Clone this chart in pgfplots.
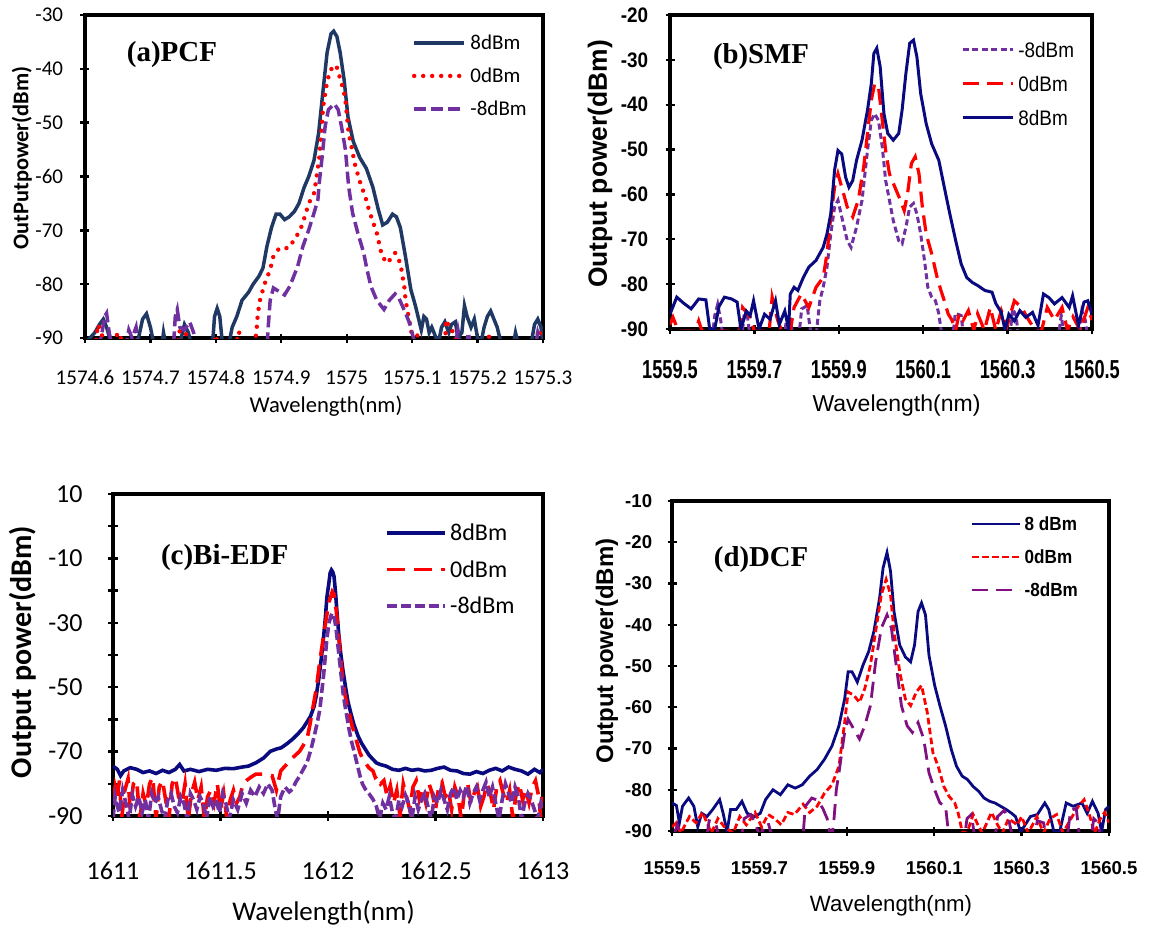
\documentclass[border=0pt]{standalone}
\usepackage{pgfplots}
\pgfplotsset{compat=1.18}
\usepackage{fontspec}
\setmainfont{Carlito}
\newfontfamily\calib{Carlito}
\newfontfamily\arial{Liberation Sans}
\newfontfamily\arialN[FakeStretch=0.9]{Liberation Sans}
\newfontfamily\arialNN[FakeStretch=0.7]{Liberation Sans}
\newfontfamily\tnr{Liberation Serif}
\definecolor{aNavy}{RGB}{31,56,100}
\definecolor{navy}{RGB}{10,10,128}
\definecolor{purp}{RGB}{112,48,160}
\definecolor{purpD}{RGB}{128,16,128}
\definecolor{myred}{RGB}{255,0,0}
\newcommand\shiftx[2]{\pgfmathfloatparsenumber{#1}\pgfmathfloattosci{\pgfmathresult}\edef\pgfmathresult{\fpeval{\pgfmathresult-#2}}}
\pgfplotsset{
  panel/.style={scale only axis, anchor=south west,
    axis line style={line width=1.8pt, line cap=rect},
    tick pos=left, tick align=center,
    major tick length=4.5pt, minor tick length=4.5pt,
    major tick style={line width=1.2pt,black},
    minor tick style={line width=1.2pt,black},
    clip=true, legend cell align=left,
    legend image code/.code={\draw[##1] (0pt,0pt) -- (25pt,0pt); \path (27pt,0pt);},
  },
}
\begin{document}
\begin{tikzpicture}
\useasboundingbox (0pt,0pt) rectangle (575pt,-466pt);
% ---------------- (a) PCF ----------------
\begin{axis}[panel, at={(42.5pt,-169pt)}, width=229pt, height=161.5pt,
  x coord trafo/.code={\shiftx{#1}{1575}},
  xmin=1574.6, xmax=1575.3, ymin=-90, ymax=-30,
  xtick={1574.6,1574.7,1574.8,1574.9,1575,1575.1,1575.2,1575.3},
  xticklabels={1574.6,1574.7,1574.8,1574.9,1575,1575.1,1575.2,1575.3},
  ytick={-90,-80,-70,-60,-50,-40,-30}, yticklabels={-90,-80,-70,-60,-50,-40,-30},
  xticklabel style={font=\calib\fontsize{10.5}{12}\selectfont, anchor=center, yshift=-17.5pt, inner sep=0pt},
  yticklabel style={font=\calib\fontsize{10.5}{12}\selectfont, anchor=east, xshift=-8.5pt, inner sep=0pt},
  legend style={at={(0.714,0.934)}, anchor=north west, draw=none, fill=none, inner sep=0pt, outer sep=0pt,
    row sep=9.9pt, column sep=0pt, nodes={inner sep=0pt, text height=6.6pt, text depth=0pt},
    font=\calib\fontsize{10.5}{12}\selectfont},
]
\addplot[aNavy, line width=1.75pt] coordinates {
(1574.600,-91) (1574.615,-89) (1574.622,-87.5) (1574.628,-86.5) (1574.633,-88) (1574.640,-91)
(1574.680,-91) (1574.688,-86.5) (1574.694,-85.5) (1574.700,-88) (1574.705,-91) (1574.718,-91)
(1574.720,-89) (1574.723,-91) (1574.745,-91) (1574.752,-87.5) (1574.758,-89) (1574.762,-91)
(1574.795,-91) (1574.798,-86) (1574.802,-84.5) (1574.806,-86) (1574.810,-91) (1574.820,-91)
(1574.825,-88) (1574.832,-86) (1574.840,-83) (1574.850,-81.5) (1574.857,-80) (1574.866,-78.5)
(1574.872,-77) (1574.878,-73) (1574.885,-69.5) (1574.892,-67) (1574.898,-67) (1574.905,-68)
(1574.912,-67.5) (1574.920,-66.5) (1574.927,-65) (1574.935,-62) (1574.942,-60) (1574.950,-57)
(1574.957,-52) (1574.963,-45) (1574.970,-37) (1574.976,-33.5) (1574.980,-33) (1574.985,-34)
(1574.990,-37) (1574.996,-42) (1575.002,-49) (1575.010,-53.5) (1575.020,-56.5) (1575.030,-58.5)
(1575.040,-62) (1575.048,-66) (1575.055,-69) (1575.062,-68.5) (1575.070,-67) (1575.076,-67.5)
(1575.082,-69.5) (1575.090,-75) (1575.098,-81) (1575.105,-84) (1575.110,-86.5) (1575.114,-88.5)
(1575.118,-86) (1575.122,-86.5) (1575.126,-89) (1575.130,-88) (1575.135,-89.5) (1575.140,-91)
(1575.145,-88) (1575.150,-87) (1575.156,-89) (1575.160,-87.5) (1575.166,-87) (1575.170,-90)
(1575.176,-89) (1575.180,-84) (1575.184,-86) (1575.190,-88) (1575.195,-86.5) (1575.200,-90)
(1575.205,-91) (1575.210,-88) (1575.215,-86) (1575.220,-85) (1575.225,-86.5) (1575.230,-88)
(1575.236,-91) (1575.255,-91) (1575.258,-89) (1575.262,-91) (1575.282,-91) (1575.287,-87.5)
(1575.292,-86.5) (1575.297,-88) (1575.300,-91)};
\addlegendentry{8dBm}
\addplot[myred, line width=2.2pt, line cap=round, dash pattern=on 0pt off 4.5pt] coordinates {
(1574.615,-92) (1574.620,-87.5) (1574.626,-89.5) (1574.630,-91) (1574.645,-91) (1574.650,-89)
(1574.655,-90) (1574.660,-92) (1574.740,-92) (1574.745,-88.5) (1574.752,-89) (1574.760,-90)
(1574.765,-92) (1574.795,-92) (1574.800,-89.5) (1574.805,-92) (1574.830,-92) (1574.835,-88.8)
(1574.840,-90.5) (1574.858,-92) (1574.862,-89) (1574.864,-85.7) (1574.867,-83.2) (1574.874,-80.1)
(1574.883,-77.3) (1574.888,-74.8) (1574.897,-73.3) (1574.911,-73.3) (1574.922,-71.4) (1574.930,-69.6)
(1574.936,-67.4) (1574.942,-65) (1574.950,-63.1) (1574.953,-60.9) (1574.958,-56.6) (1574.961,-52)
(1574.964,-47) (1574.970,-42.4) (1574.975,-40.2) (1574.984,-39.3) (1574.989,-41.4) (1574.995,-43.9)
(1574.998,-45.8) (1575.003,-52) (1575.009,-55.4) (1575.012,-57.5) (1575.020,-60.9) (1575.029,-64)
(1575.034,-66.2) (1575.040,-68.4) (1575.046,-70.5) (1575.054,-74.8) (1575.062,-76.1) (1575.074,-74.2)
(1575.082,-76.1) (1575.085,-78.3) (1575.088,-80.4) (1575.090,-83) (1575.093,-85) (1575.099,-89)
(1575.107,-89) (1575.112,-92) (1575.150,-92) (1575.152,-86.6) (1575.158,-88.5) (1575.166,-89)
(1575.170,-92) (1575.213,-92) (1575.217,-89.5) (1575.221,-92) (1575.288,-92) (1575.293,-88.3)
(1575.298,-90)};
\addlegendentry{0dBm}
\addplot[purp, line width=1.75pt, dash pattern=on 6pt off 2.5pt] coordinates {
(1574.620,-92) (1574.626,-89) (1574.630,-86) (1574.633,-85.4) (1574.637,-89) (1574.642,-92)
(1574.662,-92) (1574.667,-88.5) (1574.672,-90) (1574.678,-88) (1574.682,-92) (1574.735,-92)
(1574.738,-86) (1574.741,-84.7) (1574.745,-88) (1574.752,-88.5) (1574.760,-87) (1574.766,-89)
(1574.770,-92) (1574.878,-92) (1574.880,-88) (1574.883,-83) (1574.888,-80.7) (1574.897,-81.4)
(1574.905,-82) (1574.913,-80.4) (1574.925,-76.7) (1574.933,-73) (1574.942,-69.9) (1574.950,-66.8)
(1574.956,-64.3) (1574.958,-61.2) (1574.963,-55.7) (1574.967,-50.7) (1574.972,-47.6) (1574.981,-46.5)
(1574.987,-47.6) (1574.992,-50.7) (1574.998,-55) (1575.003,-61.9) (1575.009,-66.8) (1575.017,-70.5)
(1575.026,-74.2) (1575.031,-77.3) (1575.037,-80.4) (1575.046,-83) (1575.057,-84.7) (1575.065,-83)
(1575.074,-81.8) (1575.079,-82.4) (1575.085,-84) (1575.090,-85.4) (1575.096,-87.2) (1575.102,-90)
(1575.106,-92) (1575.165,-92) (1575.170,-88.5) (1575.175,-92) (1575.182,-92) (1575.186,-89)
(1575.190,-92) (1575.288,-92) (1575.292,-89) (1575.297,-91)};
\addlegendentry{-8dBm}
\end{axis}
% ---------------- (b) SMF ----------------
\begin{axis}[panel, at={(335pt,-164.5pt)}, width=211pt, height=157pt,
  x coord trafo/.code={\shiftx{#1}{1560}},
  xmin=1559.5, xmax=1560.5, ymin=-90, ymax=-20,
  xtick={1559.5,1559.7,1559.9,1560.1,1560.3,1560.5},
  xticklabels={1559.5,1559.7,1559.9,1560.1,1560.3,1560.5},
  ytick={-90,-80,-70,-60,-50,-40,-30,-20}, yticklabels={-90,-80,-70,-60,-50,-40,-30,-20},
  xticklabel style={font=\arialNN\bfseries\fontsize{13}{15}\selectfont, anchor=center, yshift=-18pt, inner sep=0pt},
  yticklabel style={font=\arialN\bfseries\fontsize{10.5}{12}\selectfont, anchor=east, xshift=-8.5pt, inner sep=0pt},
  legend style={at={(0.690,0.914)}, anchor=north west, draw=none, fill=none, inner sep=0pt, outer sep=0pt,
    row sep=9.5pt, column sep=0pt, nodes={inner sep=0pt, text height=7.5pt, text depth=0pt},
    font=\arialN\fontsize{10.5}{12}\selectfont},
]
\addplot[purp, line width=1.5pt, dash pattern=on 3pt off 1.75pt] coordinates {
(1559.600,-92) (1559.606,-87) (1559.613,-84.5) (1559.620,-88) (1559.626,-92) (1559.670,-92)
(1559.676,-86.5) (1559.684,-87.5) (1559.690,-92) (1559.770,-92) (1559.776,-88) (1559.785,-87.8)
(1559.792,-92) (1559.805,-92) (1559.812,-85.5) (1559.825,-84.8) (1559.835,-92) (1559.846,-92)
(1559.850,-88) (1559.855,-83.7) (1559.863,-80.7) (1559.872,-76.2) (1559.881,-68.8) (1559.890,-62.8)
(1559.898,-61.3) (1559.907,-65) (1559.920,-70.3) (1559.929,-71.8) (1559.942,-67.3) (1559.955,-61.3)
(1559.968,-50.2) (1559.977,-43.5) (1559.985,-42) (1559.994,-43.5) (1560.003,-49.4) (1560.011,-56.9)
(1560.020,-61.3) (1560.029,-65.8) (1560.042,-70.3) (1560.050,-71) (1560.059,-67.3) (1560.068,-62.8)
(1560.077,-62) (1560.085,-64.3) (1560.094,-68.8) (1560.103,-74.7) (1560.111,-80.7) (1560.120,-82.9)
(1560.129,-83.7) (1560.137,-86.6) (1560.142,-90) (1560.146,-92) (1560.170,-92) (1560.176,-86.5)
(1560.190,-87) (1560.196,-92) (1560.305,-92) (1560.312,-85.5) (1560.320,-87) (1560.326,-92)
(1560.420,-92) (1560.427,-87) (1560.435,-92) (1560.470,-92) (1560.476,-86) (1560.484,-88)
(1560.490,-92)};
\addlegendentry{-8dBm}
\addplot[myred, line width=1.6pt, dash pattern=on 8pt off 4pt] coordinates {
(1559.500,-89) (1559.507,-87.4) (1559.520,-90.5) (1559.560,-90.5) (1559.568,-88.2) (1559.576,-90.5)
(1559.665,-90.5) (1559.672,-85.2) (1559.690,-87.4) (1559.700,-90.5) (1559.735,-90.5) (1559.742,-82.9)
(1559.755,-88) (1559.765,-90.5) (1559.785,-90.5) (1559.794,-85.2) (1559.811,-82.2) (1559.829,-85.2)
(1559.846,-80.7) (1559.863,-78.5) (1559.872,-73.2) (1559.881,-65) (1559.890,-58.4) (1559.898,-55.4)
(1559.907,-58.4) (1559.920,-62.8) (1559.933,-65) (1559.946,-61.3) (1559.959,-53.9) (1559.968,-46.4)
(1559.977,-39) (1559.985,-35.3) (1559.994,-36) (1560.003,-43.5) (1560.011,-50.2) (1560.020,-55.4)
(1560.033,-58.4) (1560.046,-61.3) (1560.055,-63.6) (1560.063,-59.8) (1560.072,-53.1) (1560.081,-51.6)
(1560.090,-55.4) (1560.098,-62.8) (1560.107,-68.8) (1560.120,-73.2) (1560.133,-78.5) (1560.142,-81.4)
(1560.150,-83.7) (1560.159,-86.6) (1560.168,-88) (1560.177,-90.3) (1560.185,-86.6) (1560.195,-88)
(1560.207,-85.9) (1560.220,-90.3) (1560.229,-86.6) (1560.245,-90.3) (1560.259,-85.2) (1560.272,-90.3)
(1560.285,-85.9) (1560.298,-89.5) (1560.316,-83.7) (1560.333,-85.2) (1560.350,-88) (1560.366,-90.3)
(1560.380,-90.5) (1560.394,-85.2) (1560.411,-88) (1560.429,-85.2) (1560.442,-90.3) (1560.455,-87.3)
(1560.472,-90.3) (1560.490,-85.2) (1560.500,-88)};
\addlegendentry{0dBm}
\addplot[navy, line width=1.5pt] coordinates {
(1559.500,-86.7) (1559.516,-82.9) (1559.533,-84.3) (1559.550,-85.5) (1559.568,-83.3) (1559.585,-83.5)
(1559.594,-90) (1559.606,-90) (1559.616,-85) (1559.629,-82.9) (1559.646,-83.3) (1559.659,-84)
(1559.668,-90) (1559.681,-86) (1559.690,-87) (1559.698,-83.7) (1559.711,-90) (1559.724,-86.7)
(1559.737,-87.8) (1559.750,-83.7) (1559.759,-89) (1559.772,-86) (1559.781,-90) (1559.785,-82.2)
(1559.794,-80.7) (1559.803,-81.4) (1559.816,-78.5) (1559.829,-76.2) (1559.846,-74.7) (1559.863,-71.8)
(1559.872,-68.8) (1559.881,-64.3) (1559.890,-54.6) (1559.898,-50.2) (1559.907,-51) (1559.916,-56.1)
(1559.924,-58.4) (1559.933,-56.9) (1559.942,-52.4) (1559.955,-47.9) (1559.968,-41.2) (1559.977,-35.3)
(1559.983,-28.6) (1559.990,-27.4) (1559.998,-31.5) (1560.007,-42) (1560.016,-46.4) (1560.029,-47.9)
(1560.042,-46.4) (1560.050,-41.2) (1560.059,-33) (1560.068,-26.3) (1560.077,-25.6) (1560.085,-29.3)
(1560.094,-37.5) (1560.107,-44.2) (1560.120,-48.7) (1560.137,-52.4) (1560.150,-58.4) (1560.163,-64.3)
(1560.177,-70.3) (1560.190,-75.5) (1560.203,-78.5) (1560.216,-79.6) (1560.229,-80.3) (1560.246,-81.4)
(1560.263,-81.8) (1560.272,-84.3) (1560.285,-86.3) (1560.294,-90.3) (1560.303,-86.7) (1560.316,-88.2)
(1560.329,-85.9) (1560.343,-87.4) (1560.359,-86.3) (1560.372,-89.2) (1560.385,-82.2) (1560.398,-83)
(1560.411,-84.4) (1560.429,-83) (1560.446,-85.2) (1560.454,-82.6) (1560.468,-89.2) (1560.481,-84)
(1560.490,-83.7) (1560.500,-86.7)};
\addlegendentry{8dBm}
\end{axis}
% ---------------- (c) Bi-EDF ----------------
\begin{axis}[panel, at={(56.5pt,-408pt)}, width=215pt, height=161pt,
  major tick length=5pt, minor tick length=5pt,
  x coord trafo/.code={\shiftx{#1}{1612}},
  xmin=1611, xmax=1613, ymin=-90, ymax=10,
  xtick={1611,1611.5,1612,1612.5,1613},
  xticklabels={1611,1611.5,1612,1612.5,1613},
  ytick={-90,-70,-50,-30,-10,10}, yticklabels={-90,-70,-50,-30,-10,10},
  minor ytick={-80,-60,-40,-20,0},
  xticklabel style={font=\calib\fontsize{13}{15}\selectfont, anchor=center, yshift=-25pt, inner sep=0pt},
  yticklabel style={font=\calib\fontsize{13}{15}\selectfont, anchor=east, xshift=-12.5pt, inner sep=0pt},
  legend style={at={(0.634,0.902)}, anchor=north west, draw=none, fill=none, inner sep=0pt, outer sep=0pt,
    row sep=10.65pt, column sep=0pt, nodes={inner sep=0pt, text height=7.6pt, text depth=0pt},
    font=\calib\fontsize{12}{14}\selectfont},
  legend image code/.code={\draw[#1] (0pt,0pt) -- (29pt,0pt); \path (30.5pt,0pt);},
]
\addplot[navy, line width=1.8pt] coordinates {
(1611.000,-74.5) (1611.020,-75.5) (1611.035,-77.5) (1611.050,-76) (1611.080,-75) (1611.110,-75.5)
(1611.140,-76.5) (1611.170,-76) (1611.200,-76.8) (1611.230,-75.8) (1611.260,-76.5) (1611.290,-75.5)
(1611.310,-74) (1611.330,-76) (1611.360,-75.5) (1611.400,-76.2) (1611.440,-75.5) (1611.480,-75.8)
(1611.520,-75.2) (1611.560,-75.3) (1611.600,-74.8) (1611.630,-74.5) (1611.664,-73.5) (1611.700,-72)
(1611.732,-69.9) (1611.760,-69.2) (1611.783,-68.8) (1611.810,-67.5) (1611.834,-66.2) (1611.860,-64.5)
(1611.885,-62.6) (1611.905,-60.5) (1611.919,-59) (1611.935,-56) (1611.945,-52.8) (1611.958,-47)
(1611.970,-40.4) (1611.980,-34) (1611.987,-29) (1611.995,-22) (1612.004,-17.7) (1612.010,-14.5)
(1612.016,-13.6) (1612.022,-14.2) (1612.028,-15.6) (1612.035,-20.5) (1612.042,-27) (1612.050,-33.5)
(1612.059,-39.4) (1612.070,-45) (1612.081,-49.7) (1612.093,-54.5) (1612.106,-58) (1612.120,-61.5)
(1612.140,-65.2) (1612.157,-67.5) (1612.174,-69.3) (1612.190,-71) (1612.209,-72.4) (1612.225,-73.5)
(1612.243,-74) (1612.270,-74.5) (1612.300,-75.5) (1612.330,-75.8) (1612.360,-75.2) (1612.390,-75.8)
(1612.420,-75.5) (1612.450,-76) (1612.480,-75.8) (1612.510,-75.2) (1612.540,-74.8) (1612.570,-75.8)
(1612.600,-76) (1612.630,-76.8) (1612.660,-77) (1612.690,-76.2) (1612.720,-76.8) (1612.750,-75.8)
(1612.780,-75.2) (1612.810,-76) (1612.840,-74.8) (1612.870,-75.5) (1612.900,-76) (1612.930,-77)
(1612.960,-75.5) (1612.985,-76.5) (1613.000,-75.5)};
\addlegendentry{8dBm}
\addplot[myred, line width=1.8pt, dash pattern=on 9pt off 4.5pt] coordinates {
(1611.000,-86) (1611.010,-81) (1611.020,-84) (1611.030,-79) (1611.040,-91) (1611.055,-82)
(1611.070,-78.5) (1611.080,-88) (1611.095,-80) (1611.110,-79) (1611.125,-91) (1611.140,-83)
(1611.155,-87) (1611.170,-80) (1611.185,-78) (1611.200,-91) (1611.215,-81) (1611.230,-79)
(1611.245,-85) (1611.260,-91) (1611.275,-80) (1611.290,-78) (1611.305,-84) (1611.320,-86)
(1611.335,-80) (1611.350,-91) (1611.365,-83) (1611.380,-79.5) (1611.395,-85) (1611.410,-81)
(1611.425,-91) (1611.440,-84) (1611.455,-82) (1611.470,-86) (1611.485,-80) (1611.500,-88)
(1611.515,-83) (1611.530,-91) (1611.545,-85) (1611.560,-82) (1611.575,-86) (1611.590,-84)
(1611.605,-80) (1611.620,-79) (1611.640,-78) (1611.664,-77) (1611.700,-77) (1611.740,-77.5)
(1611.760,-82) (1611.780,-76) (1611.800,-74.5) (1611.834,-72) (1611.868,-69.9) (1611.902,-66.2)
(1611.915,-62) (1611.928,-57) (1611.945,-50.7) (1611.958,-44) (1611.970,-38.3) (1611.984,-32)
(1611.996,-27) (1612.005,-23.5) (1612.013,-21.8) (1612.020,-20.3) (1612.027,-21) (1612.038,-26)
(1612.046,-31.5) (1612.055,-38.3) (1612.063,-44) (1612.072,-49.7) (1612.085,-54.5) (1612.098,-58)
(1612.110,-61.5) (1612.123,-64.2) (1612.136,-67.5) (1612.149,-70.4) (1612.160,-72) (1612.174,-73.5)
(1612.190,-75) (1612.209,-76) (1612.220,-78) (1612.230,-77.5) (1612.245,-80) (1612.260,-79)
(1612.275,-84) (1612.290,-80.5) (1612.305,-86) (1612.320,-82) (1612.335,-90) (1612.350,-80)
(1612.365,-84) (1612.380,-88) (1612.395,-81) (1612.410,-79) (1612.425,-85) (1612.440,-82)
(1612.455,-86) (1612.470,-80) (1612.485,-83) (1612.500,-88) (1612.515,-81) (1612.530,-79.5)
(1612.545,-84) (1612.560,-82) (1612.575,-88) (1612.590,-81) (1612.605,-84) (1612.620,-91)
(1612.635,-82) (1612.650,-80) (1612.665,-86) (1612.680,-83) (1612.695,-81) (1612.710,-87)
(1612.725,-84) (1612.740,-80) (1612.755,-83) (1612.770,-88) (1612.785,-81) (1612.800,-79)
(1612.815,-83) (1612.830,-86) (1612.845,-82) (1612.860,-91) (1612.875,-83) (1612.890,-80)
(1612.905,-85) (1612.920,-82) (1612.935,-86) (1612.950,-81) (1612.965,-79) (1612.980,-84)
(1612.990,-91) (1613.000,-84)};
\addlegendentry{0dBm}
\addplot[purp, line width=1.8pt, dash pattern=on 5pt off 2pt] coordinates {
(1611.000,-91) (1611.010,-84) (1611.020,-87) (1611.030,-89) (1611.045,-82) (1611.060,-86)
(1611.075,-91) (1611.090,-83.5) (1611.105,-87) (1611.120,-84) (1611.135,-89) (1611.150,-85)
(1611.165,-91) (1611.180,-83) (1611.195,-86) (1611.210,-84) (1611.225,-88) (1611.240,-91)
(1611.255,-85) (1611.270,-83) (1611.285,-87) (1611.300,-89) (1611.315,-84) (1611.330,-86)
(1611.345,-91) (1611.360,-83) (1611.375,-85) (1611.390,-88) (1611.405,-84) (1611.420,-86)
(1611.435,-91) (1611.450,-84) (1611.465,-87) (1611.480,-85) (1611.495,-89) (1611.510,-83)
(1611.525,-86) (1611.540,-91) (1611.560,-85) (1611.580,-88) (1611.600,-83) (1611.620,-86)
(1611.640,-82) (1611.660,-84) (1611.680,-81) (1611.700,-83) (1611.720,-80) (1611.740,-82)
(1611.755,-88) (1611.766,-91) (1611.780,-84) (1611.800,-81) (1611.820,-82.5) (1611.834,-81.7)
(1611.850,-79.5) (1611.868,-77.6) (1611.885,-75.5) (1611.902,-73.5) (1611.920,-69.5) (1611.936,-65.2)
(1611.950,-61) (1611.962,-57) (1611.970,-52) (1611.979,-46.6) (1611.988,-40) (1611.996,-34.2)
(1612.005,-30) (1612.013,-28) (1612.019,-27) (1612.025,-27.5) (1612.032,-29.5) (1612.038,-32.1)
(1612.046,-37) (1612.055,-42.5) (1612.063,-47.5) (1612.072,-52.8) (1612.085,-58) (1612.098,-63.1)
(1612.110,-67) (1612.123,-70.4) (1612.136,-74) (1612.149,-77.6) (1612.160,-80) (1612.174,-81.7)
(1612.190,-83) (1612.209,-84.8) (1612.225,-87) (1612.240,-91) (1612.255,-86) (1612.270,-88)
(1612.285,-84) (1612.300,-89) (1612.315,-91) (1612.330,-85) (1612.345,-87) (1612.360,-83.5)
(1612.375,-86) (1612.390,-91) (1612.405,-84) (1612.420,-88) (1612.435,-85) (1612.450,-83)
(1612.465,-87) (1612.480,-91) (1612.495,-84) (1612.510,-86) (1612.525,-82) (1612.540,-85)
(1612.555,-88) (1612.570,-83) (1612.585,-81) (1612.600,-85) (1612.615,-82) (1612.630,-84)
(1612.645,-80.5) (1612.660,-86) (1612.675,-83) (1612.690,-81) (1612.705,-85) (1612.720,-82)
(1612.735,-79.5) (1612.750,-84) (1612.765,-81) (1612.780,-86) (1612.795,-91) (1612.810,-85)
(1612.825,-80) (1612.840,-83) (1612.855,-86) (1612.870,-81) (1612.885,-84) (1612.900,-91)
(1612.915,-86) (1612.930,-83) (1612.945,-85) (1612.960,-88) (1612.975,-91) (1612.990,-86)
(1613.000,-88)};
\addlegendentry{-8dBm}
\end{axis}
% ---------------- (d) DCF ----------------
\begin{axis}[panel, at={(336pt,-415.5pt)}, width=218.5pt, height=165pt,
  x coord trafo/.code={\shiftx{#1}{1560}},
  xmin=1559.5, xmax=1560.5, ymin=-90, ymax=-10,
  xtick={1559.5,1559.7,1559.9,1560.1,1560.3,1560.5},
  xticklabels={1559.5,1559.7,1559.9,1560.1,1560.3,1560.5},
  ytick={-90,-80,-70,-60,-50,-40,-30,-20,-10}, yticklabels={-90,-80,-70,-60,-50,-40,-30,-20,-10},
  xticklabel style={font=\arial\bfseries\fontsize{9.3}{11}\selectfont, anchor=center, yshift=-16.5pt, inner sep=0pt},
  yticklabel style={font=\arial\bfseries\fontsize{9.3}{11}\selectfont, anchor=east, xshift=-7.5pt, inner sep=0pt},
  legend style={at={(0.684,0.951)}, anchor=north west, draw=none, fill=none, inner sep=0pt, outer sep=0pt,
    row sep=9.7pt, column sep=0pt, nodes={inner sep=0pt, text height=6.8pt, text depth=0pt},
    font=\arialN\bfseries\fontsize{9.5}{11}\selectfont},
  legend image code/.code={\draw[#1] (0pt,0pt) -- (24pt,0pt); \path (25.5pt,0pt);},
]
\addplot[navy, line width=1.4pt] coordinates {
(1559.500,-83.2) (1559.510,-83.8) (1559.517,-88) (1559.524,-84) (1559.538,-82) (1559.550,-84)
(1559.559,-89) (1559.568,-85.7) (1559.580,-86.5) (1559.593,-84.8) (1559.609,-82.4) (1559.617,-85.7)
(1559.626,-90.2) (1559.634,-84.8) (1559.647,-84.8) (1559.660,-82.8) (1559.672,-85.7) (1559.689,-86.5)
(1559.702,-85.7) (1559.714,-82.4) (1559.731,-80) (1559.748,-81.2) (1559.765,-78.8) (1559.782,-79.6)
(1559.798,-78.8) (1559.815,-76.7) (1559.832,-75.1) (1559.849,-72.6) (1559.866,-69.4) (1559.882,-64.5)
(1559.895,-58) (1559.903,-51.4) (1559.912,-51.4) (1559.924,-53.9) (1559.937,-49.8) (1559.950,-46.5)
(1559.962,-41.6) (1559.975,-33.5) (1559.983,-26.2) (1559.992,-22.5) (1560.000,-27) (1560.008,-36.8)
(1560.021,-44.9) (1560.034,-47.8) (1560.046,-49) (1560.055,-44.9) (1560.063,-36.8) (1560.071,-34.7)
(1560.080,-37.6) (1560.088,-47.4) (1560.101,-54.7) (1560.113,-59.6) (1560.126,-64.5) (1560.139,-70.2)
(1560.151,-74.3) (1560.164,-76.7) (1560.176,-77.5) (1560.189,-79.2) (1560.202,-80.4) (1560.214,-82)
(1560.227,-82.8) (1560.239,-83.2) (1560.252,-84) (1560.265,-84.8) (1560.277,-85.7) (1560.286,-86.5)
(1560.298,-90.2) (1560.320,-86.5) (1560.336,-86) (1560.353,-83.2) (1560.362,-84.8) (1560.374,-90.2)
(1560.387,-90.2) (1560.402,-83.2) (1560.418,-84) (1560.438,-83.2) (1560.450,-85.7) (1560.462,-82.8)
(1560.475,-85.7) (1560.483,-90.2) (1560.492,-84.8) (1560.500,-84)};
\addlegendentry{8 dBm}
\addplot[myred, line width=1.4pt, dash pattern=on 3.3pt off 1.7pt] coordinates {
(1559.500,-89) (1559.510,-88) (1559.520,-90.5) (1559.540,-86.5) (1559.555,-88) (1559.570,-85.5)
(1559.590,-90.5) (1559.605,-87) (1559.620,-89) (1559.640,-90.5) (1559.655,-86.5) (1559.670,-88.5)
(1559.690,-85.5) (1559.705,-89) (1559.720,-86) (1559.735,-87) (1559.750,-88.5) (1559.765,-85.5)
(1559.780,-86) (1559.800,-83.5) (1559.815,-85.5) (1559.832,-84) (1559.849,-80.8) (1559.866,-78.8)
(1559.882,-74.3) (1559.895,-63.7) (1559.903,-56.3) (1559.916,-57.1) (1559.929,-58.8) (1559.941,-55.5)
(1559.954,-49.8) (1559.966,-41.6) (1559.979,-32.7) (1559.990,-29) (1560.000,-32.7) (1560.008,-41.6)
(1560.021,-51.4) (1560.034,-58) (1560.046,-59.6) (1560.059,-56.3) (1560.071,-54.7) (1560.084,-61.2)
(1560.097,-71) (1560.109,-74.3) (1560.122,-79.2) (1560.134,-81.6) (1560.147,-83.2) (1560.155,-85.7)
(1560.164,-90.2) (1560.175,-90.5) (1560.189,-86) (1560.200,-88.5) (1560.210,-90.5) (1560.231,-85.5)
(1560.245,-88.5) (1560.256,-90.5) (1560.270,-87) (1560.290,-88.5) (1560.300,-86.5) (1560.315,-90.5)
(1560.335,-86.5) (1560.350,-90.5) (1560.365,-87) (1560.380,-86) (1560.395,-90.5) (1560.410,-87.5)
(1560.430,-84) (1560.443,-82.4) (1560.455,-86) (1560.467,-90.5) (1560.480,-87) (1560.490,-85.5)
(1560.500,-88)};
\addlegendentry{0dBm}
\addplot[purpD, line width=1.4pt, dash pattern=on 8pt off 4pt] coordinates {
(1559.505,-91) (1559.512,-88.5) (1559.520,-91) (1559.580,-91) (1559.585,-87.5) (1559.600,-88)
(1559.606,-91) (1559.660,-91) (1559.665,-87) (1559.680,-86) (1559.690,-88) (1559.700,-91)
(1559.720,-88) (1559.728,-91) (1559.800,-91) (1559.805,-84) (1559.820,-82) (1559.832,-82.5)
(1559.845,-84.5) (1559.855,-87) (1559.862,-91) (1559.866,-91) (1559.870,-88) (1559.876,-80)
(1559.882,-75.9) (1559.895,-66.1) (1559.903,-62.9) (1559.916,-65.3) (1559.929,-67.7) (1559.941,-64.5)
(1559.954,-59.6) (1559.966,-49) (1559.979,-40.8) (1559.992,-37.6) (1560.002,-40.8) (1560.013,-49.8)
(1560.025,-59.6) (1560.038,-64.5) (1560.050,-66.1) (1560.063,-63.7) (1560.076,-67.7) (1560.088,-75.9)
(1560.101,-80) (1560.113,-83.2) (1560.126,-84) (1560.130,-88) (1560.134,-91) (1560.170,-91)
(1560.175,-87) (1560.185,-86) (1560.192,-91) (1560.240,-91) (1560.245,-86.5) (1560.260,-85)
(1560.270,-87) (1560.278,-91) (1560.330,-91) (1560.336,-87.5) (1560.350,-88) (1560.356,-91)
(1560.405,-91) (1560.412,-85) (1560.425,-84.5) (1560.432,-91) (1560.460,-91) (1560.465,-87)
(1560.475,-88) (1560.480,-91)};
\addlegendentry{-8dBm}
\end{axis}
% ---------------- labels and titles ----------------
\node[font=\tnr\bfseries\fontsize{14.5}{16}\selectfont, anchor=west, inner sep=0pt] at (63.25pt,-27.5pt) {(a)PCF};
\node[font=\tnr\bfseries\fontsize{14.4}{16}\selectfont, anchor=west, inner sep=0pt] at (356.3pt,-28.4pt) {(b)SMF};
\node[font=\tnr\bfseries\fontsize{14.5}{16}\selectfont, anchor=west, inner sep=0pt] at (80.3pt,-279pt) {(c)Bi-EDF};
\node[font=\tnr\bfseries\fontsize{14.4}{16}\selectfont, anchor=west, inner sep=0pt] at (356.75pt,-280pt) {(d)DCF};
\node[font=\calib\bfseries\fontsize{11.2}{13}\selectfont, rotate=90, inner sep=0pt] at (10.85pt,-79pt) {OutPutpower(dBm)};
\node[font=\calib\fontsize{11.3}{13}\selectfont, inner sep=0pt] at (163pt,-203pt) {Wavelength(nm)};
\node[font=\arial\bfseries\fontsize{13.2}{15}\selectfont, rotate=90, inner sep=0pt] at (300pt,-82pt) {Output power(dBm)};
\node[font=\arial\fontsize{11.5}{13}\selectfont, inner sep=0pt] at (448.25pt,-203pt) {Wavelength(nm)};
\node[font=\calib\bfseries\fontsize{15}{17}\selectfont, rotate=90, inner sep=0pt] at (11.25pt,-326pt) {Output power(dBm)};
\node[font=\calib\fontsize{13.5}{15}\selectfont, inner sep=0pt] at (161.75pt,-456.5pt) {Wavelength(nm)};
\node[font=\arial\bfseries\fontsize{12}{14}\selectfont, rotate=90, inner sep=0pt] at (303.5pt,-325.5pt) {Output power(dBm)};
\node[font=\arial\fontsize{11.1}{13}\selectfont, inner sep=0pt] at (445.5pt,-453pt) {Wavelength(nm)};
\end{tikzpicture}
\end{document}
